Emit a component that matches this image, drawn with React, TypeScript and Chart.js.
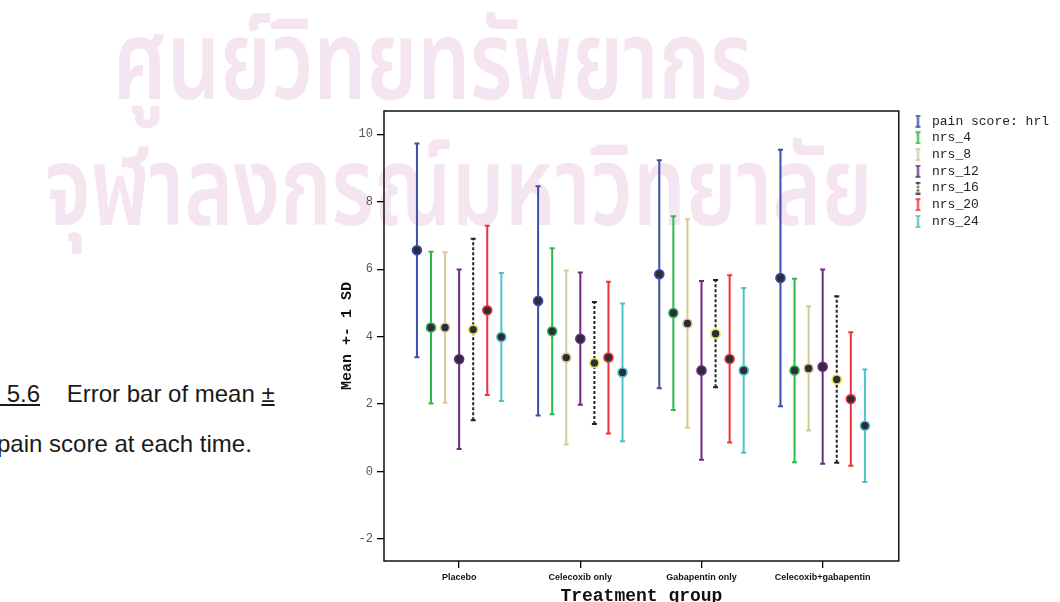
import React, { useEffect, useRef } from "react";
import { Chart, registerables } from "chart.js";

Chart.register(...registerables);

// ---------- data ----------
const groups = ["Placebo", "Celecoxib only", "Gabapentin only", "Celecoxib+gabapentin"];
const seriesNames = ["pain score: hrl", "nrs_4", "nrs_8", "nrs_12", "nrs_16", "nrs_20", "nrs_24"];

const hr1Mean = [6.56, 5.06, 5.85, 5.74];
const hr1SD = [3.17, 3.4, 3.38, 3.8];
const nrs4Mean = [4.27, 4.16, 4.7, 3.0];
const nrs4SD = [2.25, 2.46, 2.87, 2.72];
const nrs8Mean = [4.27, 3.38, 4.39, 3.06];
const nrs8SD = [2.23, 2.58, 3.09, 1.84];
const nrs12Mean = [3.33, 3.94, 3.0, 3.11];
const nrs12SD = [2.66, 1.96, 2.65, 2.88];
const nrs16Mean = [4.21, 3.22, 4.09, 2.73];
const nrs16SD = [2.69, 1.81, 1.59, 2.47];
const nrs20Mean = [4.78, 3.38, 3.34, 2.15];
const nrs20SD = [2.51, 2.25, 2.48, 1.98];
const nrs24Mean = [3.99, 2.94, 3.0, 1.36];
const nrs24SD = [1.9, 2.04, 2.44, 1.67];

const yTickValues = [-2, 0, 2, 4, 6, 8, 10];

const seriesMeans = [hr1Mean, nrs4Mean, nrs8Mean, nrs12Mean, nrs16Mean, nrs20Mean, nrs24Mean];
const seriesSDs = [hr1SD, nrs4SD, nrs8SD, nrs12SD, nrs16SD, nrs20SD, nrs24SD];

// ---------- styles ----------
const colors = ["#3b4fa5", "#2fb84a", "#d3cb94", "#6f2a80", "#222222", "#ee3338", "#4cc3c6"];
const meanBorder = ["#3b4fa5", "#2fb84a", "#d3cb94", "#6f2a80", "#e6e24a", "#ee3338", "#4cc3c6"];
const seriesGap = 0.1161;

function makeIcon(color: string, dashed: boolean): HTMLCanvasElement {
  const c = document.createElement("canvas");
  c.width = 23;
  c.height = 13;
  const ctx = c.getContext("2d")!;
  ctx.strokeStyle = color;
  ctx.lineWidth = 2;
  if (dashed) ctx.setLineDash([2, 1.5]);
  ctx.beginPath();
  ctx.moveTo(15.5, 1);
  ctx.lineTo(15.5, 12);
  ctx.stroke();
  ctx.setLineDash([]);
  ctx.lineWidth = 1.6;
  ctx.beginPath();
  ctx.moveTo(13, 1);
  ctx.lineTo(18, 1);
  ctx.moveTo(13, 12);
  ctx.lineTo(18, 12);
  ctx.stroke();
  return c;
}

const framePlugin = {
  id: "frameBox",
  beforeDatasetsDraw(chart: any) {
    const { ctx, chartArea } = chart;
    ctx.save();
    ctx.strokeStyle = "#111";
    ctx.lineWidth = 1.5;
    ctx.strokeRect(chartArea.left, chartArea.top, chartArea.right - chartArea.left, chartArea.bottom - chartArea.top);
    ctx.restore();
  },
};

export default function App() {
  const ref = useRef<HTMLCanvasElement | null>(null);

  useEffect(() => {
    if (!ref.current) return;
    const icons = colors.map((c, i) => makeIcon(c, i === 4));
    const datasets = seriesNames.map((name, s) => ({
      label: name,
      data: groups.flatMap((_, g) => {
        const x = g + (s - 3) * seriesGap;
        const m = seriesMeans[s][g];
        const sd = seriesSDs[s][g];
        return [
          { x, y: m - sd },
          { x, y: m },
          { x, y: m + sd },
          { x, y: null },
        ];
      }),
      showLine: true,
      spanGaps: false,
      borderColor: colors[s],
      borderWidth: 2,
      borderDash: s === 4 ? [3, 2] : [],
      tension: 0,
      pointStyle: (c: any) => (c.dataIndex % 4 === 1 ? "circle" : "line"),
      pointRadius: (c: any) => (c.dataIndex % 4 === 1 ? 4.5 : 2.5),
      pointBorderWidth: (c: any) => (c.dataIndex % 4 === 1 ? 1.6 : 2),
      pointBorderColor: (c: any) => (c.dataIndex % 4 === 1 ? meanBorder[s] : colors[s]),
      pointBackgroundColor: "#2c2c3c",
      pointHoverRadius: 0,
    }));

    const chart = new Chart(ref.current, {
      type: "scatter",
      data: { datasets: datasets as any },
      options: {
        responsive: false,
        animation: false,
        events: [],
        layout: { padding: { left: 300, top: 111, right: 1, bottom: 0 } },
        plugins: {
          tooltip: { enabled: false },
          legend: {
            position: "right",
            align: "start",
            labels: {
              usePointStyle: true,
              pointStyleWidth: 23,
              padding: 3.7,
              color: "#222",
              font: { family: "'Liberation Mono', monospace", size: 13 },
              generateLabels: (ch: any) =>
                ch.data.datasets.map((ds: any, i: number) => ({
                  text: ds.label,
                  pointStyle: icons[i],
                  fillStyle: colors[i],
                  strokeStyle: colors[i],
                  lineWidth: 0,
                  hidden: false,
                  datasetIndex: i,
                  fontColor: "#222",
                })),
            },
          },
        },
        scales: {
          x: {
            type: "linear",
            min: -0.62,
            max: 3.628,
            afterBuildTicks: (sc: any) => {
              sc.ticks = groups.map((_, i) => ({ value: i }));
            },
            afterFit: (sc: any) => {
              sc.height = 54;
            },
            ticks: {
              autoSkip: false,
              maxRotation: 0,
              padding: 4,
              color: "#111",
              font: { family: "'Liberation Sans', Arial, sans-serif", size: 9, weight: "bold" },
              callback: (v: any) => groups[v] ?? "",
            },
            grid: { drawOnChartArea: false, drawTicks: true, tickLength: 7, color: "#000", lineWidth: 1.3 },
            border: { display: false },
            title: {
              display: true,
              text: "Treatment group",
              color: "#111",
              font: { family: "'Liberation Mono', monospace", size: 18, weight: "bold" },
              padding: { top: 0, bottom: 8.2 },
            },
          },
          y: {
            type: "linear",
            min: -2.65,
            max: 10.69,
            afterBuildTicks: (sc: any) => {
              sc.ticks = yTickValues.map((v) => ({ value: v }));
            },
            afterFit: (sc: any) => {
              sc.width = 84;
            },
            ticks: {
              padding: 4,
              color: "#555",
              font: { family: "'Liberation Mono', monospace", size: 12 },
              callback: (v: any) => String(v),
            },
            grid: { drawOnChartArea: false, drawTicks: true, tickLength: 7, color: "#000", lineWidth: 1.3 },
            border: { display: false },
            title: {
              display: true,
              text: "Mean +- 1 SD",
              color: "#111",
              font: { family: "'Liberation Mono', monospace", size: 15, weight: "bold" },
              padding: { top: 38, bottom: 0 },
            },
          },
        },
      },
      plugins: [framePlugin],
    });
    return () => chart.destroy();
  }, []);

  const thai = "'Noto Sans Thai', 'Noto Serif Thai', Loma, Garuda, Norasi, 'TlwgTypo', 'DejaVu Sans', sans-serif";
  const watermark: React.CSSProperties = {
    position: "absolute",
    fontFamily: thai,
    fontSize: 110,
    fontWeight: 600,
    lineHeight: "124px",
    color: "#f4e5f0",
    whiteSpace: "pre",
    transformOrigin: "0 0",
    transform: "scaleX(0.76)",
  };
  const caption: React.CSSProperties = {
    position: "absolute",
    fontFamily: "'Liberation Sans', Arial, sans-serif",
    fontSize: 24,
    lineHeight: "24px",
    color: "#1a1a1a",
    whiteSpace: "pre",
  };

  return (
    <div style={{ position: "absolute", left: 0, top: 0, width: 1060, height: 602, overflow: "hidden", background: "#fff" }}>
      <div style={{ ...watermark, left: 113, top: 4 }}>ศูนย์วิทยทรัพยากร</div>
      <div style={{ ...watermark, left: 45, top: 130 }}>จุฬาลงกรณ์มหาวิทยาลัย</div>
      <div style={{ ...caption, left: 0, top: 382 }}>
        <span style={{ textDecoration: "underline" }}>{" 5.6"}</span>
        {"    Error bar of mean "}
        <span style={{ textDecoration: "underline" }}>±</span>
      </div>
      <div style={{ ...caption, left: -3, top: 432 }}>pain score at each time.</div>
      <canvas ref={ref} width={1060} height={615} style={{ position: "absolute", left: 0, top: 0 }} />
    </div>
  );
}
